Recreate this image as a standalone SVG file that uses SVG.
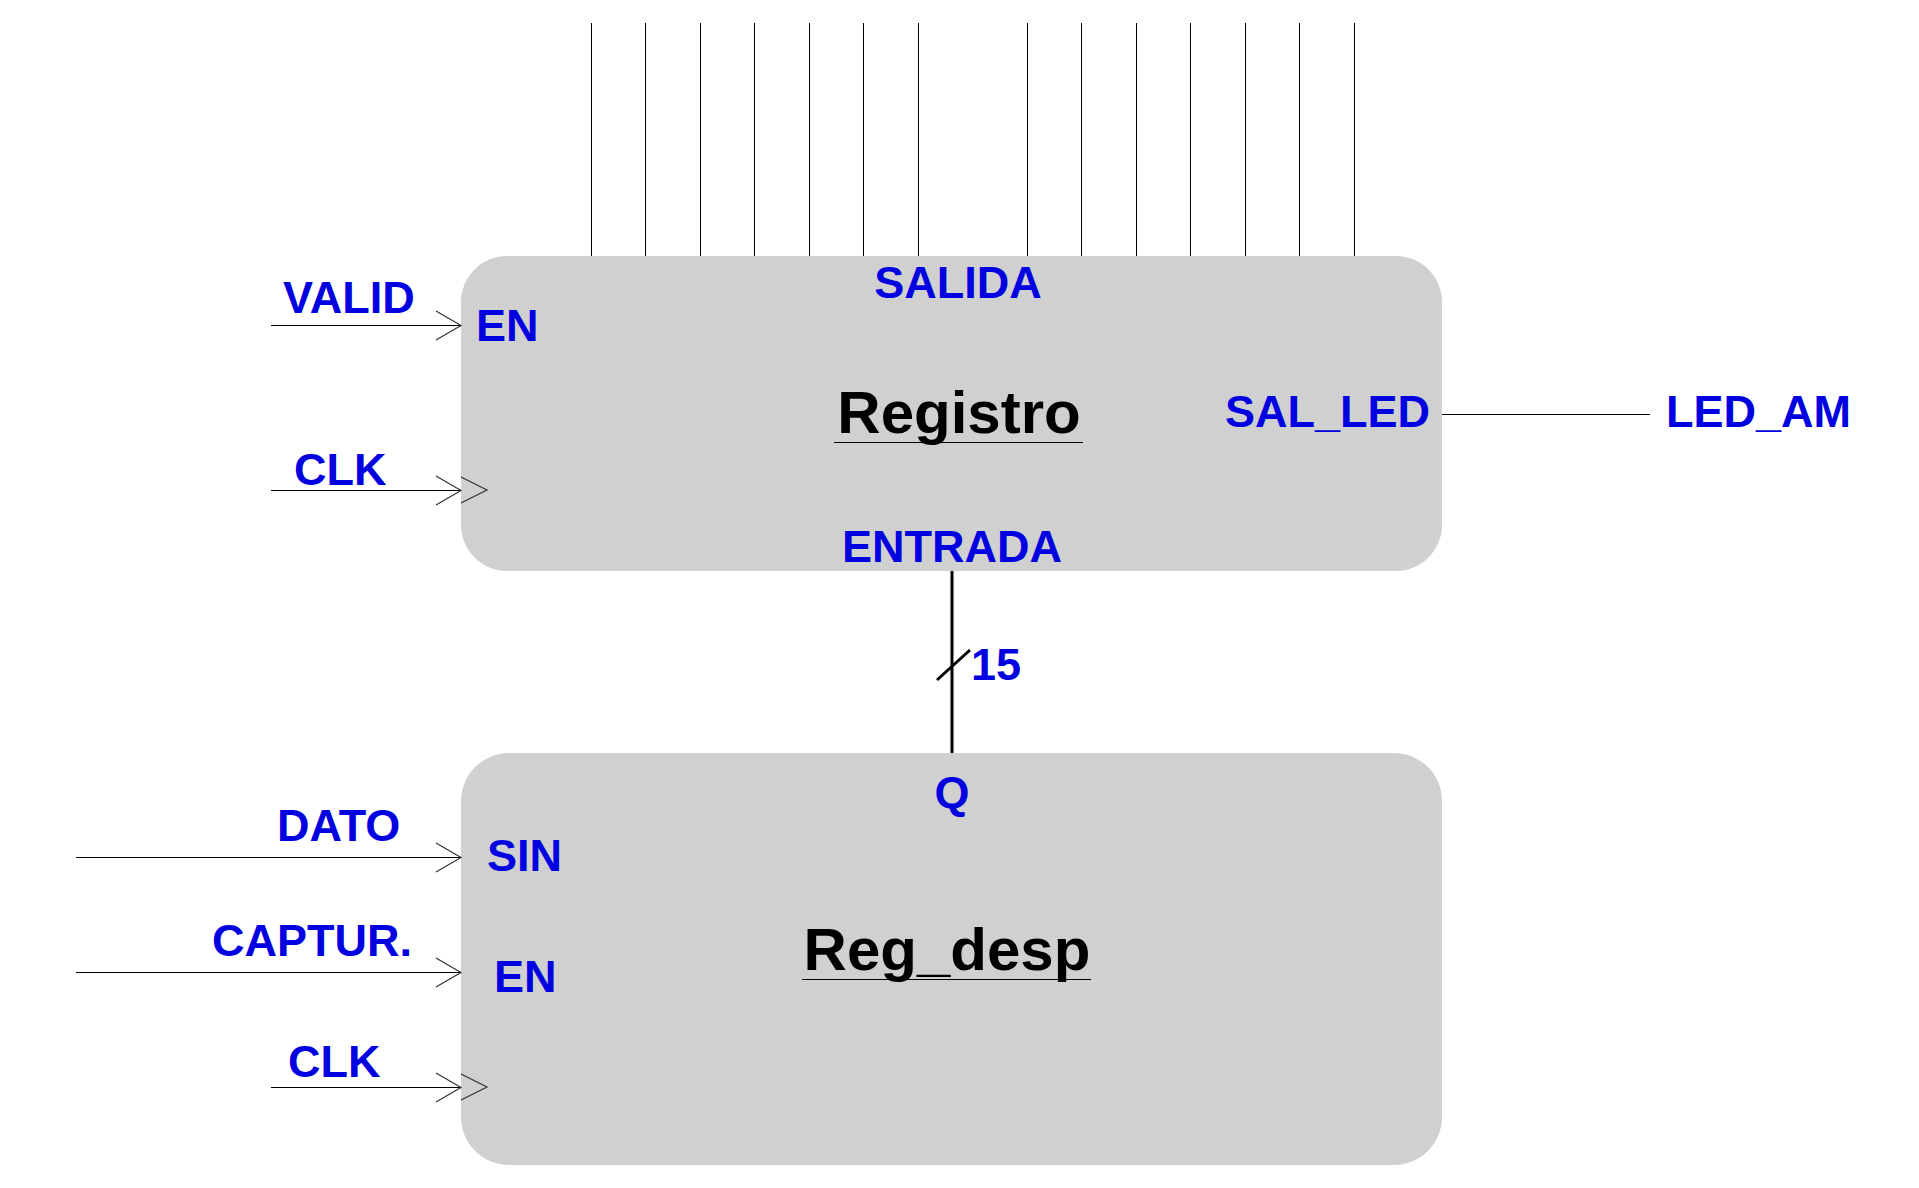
<svg xmlns="http://www.w3.org/2000/svg" width="1919" height="1188" viewBox="0 0 1919 1188">
<style>
.box{fill:#d0d0d0;stroke:none}
.w{stroke:#000;stroke-width:1;fill:none;shape-rendering:crispEdges}
.ar{stroke:#333;stroke-width:1.2;fill:none}
.bus{stroke:#000;stroke-width:3;fill:none}
.lbl{font-family:"Liberation Sans",Arial,sans-serif;font-weight:bold;font-size:45px;fill:#0000e0}
.title{font-family:"Liberation Sans",Arial,sans-serif;font-weight:bold;font-size:60px;fill:#000}
</style>
<rect width="1919" height="1188" fill="#fff"/>
<g id="registro">
<rect class="box" x="461" y="256" width="981" height="315" rx="46" ry="46"/>
<text class="title" x="959" y="433" text-anchor="middle">Registro</text>
<line class="w" x1="834" y1="442.5" x2="1083" y2="442.5"/>
<text class="lbl" x="958" y="298" text-anchor="middle">SALIDA</text>
<text class="lbl" x="476" y="341">EN</text>
<text class="lbl" x="1430" y="427" text-anchor="end">SAL_LED</text>
<text class="lbl" x="952" y="562" text-anchor="middle">ENTRADA</text>
<polyline class="ar" points="461,477 487,490 461,503"/>
</g>
<g id="reg_desp">
<rect class="box" x="461" y="753" width="981" height="412" rx="48" ry="48"/>
<text class="title" x="947" y="970" text-anchor="middle">Reg_desp</text>
<line class="w" x1="802" y1="979.5" x2="1091" y2="979.5"/>
<text class="lbl" x="952" y="808" text-anchor="middle">Q</text>
<text class="lbl" x="487" y="871">SIN</text>
<text class="lbl" x="494" y="992">EN</text>
<polyline class="ar" points="461,1074 487,1087 461,1100"/>
</g>
<g id="connectors">
<line class="w" x1="591.5" y1="23" x2="591.5" y2="256"/>
<line class="w" x1="645.5" y1="23" x2="645.5" y2="256"/>
<line class="w" x1="700.5" y1="23" x2="700.5" y2="256"/>
<line class="w" x1="754.5" y1="23" x2="754.5" y2="256"/>
<line class="w" x1="809.5" y1="23" x2="809.5" y2="256"/>
<line class="w" x1="863.5" y1="23" x2="863.5" y2="256"/>
<line class="w" x1="918.5" y1="23" x2="918.5" y2="256"/>
<line class="w" x1="1027.5" y1="23" x2="1027.5" y2="256"/>
<line class="w" x1="1081.5" y1="23" x2="1081.5" y2="256"/>
<line class="w" x1="1136.5" y1="23" x2="1136.5" y2="256"/>
<line class="w" x1="1190.5" y1="23" x2="1190.5" y2="256"/>
<line class="w" x1="1245.5" y1="23" x2="1245.5" y2="256"/>
<line class="w" x1="1299.5" y1="23" x2="1299.5" y2="256"/>
<line class="w" x1="1354.5" y1="23" x2="1354.5" y2="256"/>
<line class="w" x1="271" y1="325.5" x2="461" y2="325.5"/>
<polyline class="ar" points="436,311 461,325.5 436,340"/>
<line class="w" x1="271" y1="490.5" x2="461" y2="490.5"/>
<polyline class="ar" points="436,476 461,490.5 436,505"/>
<line class="w" x1="1442" y1="414.5" x2="1650" y2="414.5"/>
<line class="bus" x1="952" y1="571" x2="952" y2="753"/>
<line class="bus" x1="937" y1="680" x2="970" y2="650"/>
<line class="w" x1="76" y1="857.5" x2="461" y2="857.5"/>
<polyline class="ar" points="436,843 461,857.5 436,872"/>
<line class="w" x1="76" y1="972.5" x2="461" y2="972.5"/>
<polyline class="ar" points="436,958 461,972.5 436,987"/>
<line class="w" x1="271" y1="1087.5" x2="461" y2="1087.5"/>
<polyline class="ar" points="436,1073 461,1087.5 436,1102"/>
</g>
<g id="labels">
<text class="lbl" x="283" y="313">VALID</text>
<text class="lbl" x="294" y="485">CLK</text>
<text class="lbl" x="1666" y="427">LED_AM</text>
<text class="lbl" x="971" y="680">15</text>
<text class="lbl" x="277" y="841">DATO</text>
<text class="lbl" x="212" y="956">CAPTUR.</text>
<text class="lbl" x="288" y="1077">CLK</text>
</g>
</svg>
